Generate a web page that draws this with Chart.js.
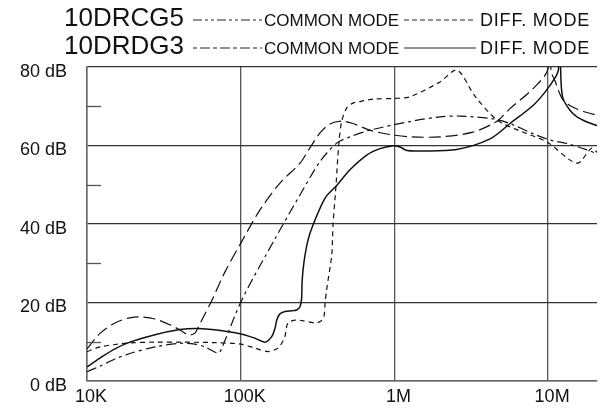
<!DOCTYPE html>
<html>
<head>
<meta charset="utf-8">
<title>10DRCG5 / 10DRDG3 attenuation</title>
<script src="https://cdn.jsdelivr.net/npm/chart.js@4.4.1/dist/chart.umd.min.js"></script>
<style>
  html, body { margin: 0; padding: 0; background: #fff; }
  #c { display: block; }
</style>
</head>
<body>
<canvas id="c" width="606" height="414"></canvas>
<script>
// ---- Data (frequency in Hz, attenuation in dB) ----
// 10DRCG5 common mode
const cg5CommonFreq = [10000, 12200, 15200, 19000, 22800, 27700, 34700, 40300, 44000, 46800, 50400, 52700, 56800, 65000, 79000, 100400, 133500, 180000, 243000, 282000, 328000, 381000, 456000, 538000, 694000, 936000, 1260000, 1980000, 3240000, 4650000, 5650000, 7980000, 9980000, 10200000, 10450000, 11090000, 11600000, 12500000, 13870000, 15400000, 17900000, 20800000];
const cg5CommonDb = [8.2, 12.2, 14.8, 16.1, 16.3, 15.8, 14.3, 13.0, 12.0, 11.7, 12.2, 13.5, 16.1, 20.6, 27.8, 35.2, 43.6, 50.4, 55.5, 59.4, 63.2, 65.5, 66.2, 65.6, 63.9, 62.8, 62.2, 62.2, 63.4, 66.2, 69.4, 74.5, 79.5, 95, 79, 76.5, 74.3, 71.6, 70.2, 69.3, 68.4, 67.7];

// 10DRCG5 differential mode
const cg5DiffFreq = [10000, 12200, 15200, 19000, 27700, 40300, 65000, 100400, 123900, 150500, 174900, 188400, 194000, 203000, 225600, 250600, 304000, 333000, 348000, 354000, 362000, 391000, 398600, 417000, 436000, 454000, 490000, 538000, 597000, 726000, 1009000, 1260000, 1980000, 2555000, 3340000, 4650000, 6560000, 9840000, 15400000, 19150000, 20800000];
const cg5DiffDb = [7.5, 8.7, 9.3, 9.7, 9.9, 9.9, 9.8, 9.4, 8.4, 7.5, 8.4, 10.2, 11.3, 14.8, 15.5, 15.4, 14.8, 15.3, 16.4, 19.9, 23.2, 32.1, 39.7, 49.9, 61.0, 66.1, 69.6, 70.8, 71.2, 71.8, 72.0, 72.4, 76.2, 79.2, 72.6, 66.5, 63.7, 60.9, 55.5, 59.3, 58.3];

// 10DRDG3 common mode
const dg3CommonFreq = [10000, 12200, 15200, 19000, 27700, 40300, 50400, 58600, 71100, 74400, 101500, 167000, 243000, 328000, 421000, 514000, 694000, 1260000, 1980000, 2670000, 4380000, 5650000, 7980000, 10300000, 13270000, 17900000, 20800000];
const dg3CommonDb = [2.4, 3.8, 5.6, 7.0, 8.7, 9.6, 9.4, 8.7, 7.1, 7.9, 20.6, 36.2, 47.4, 55.9, 60.6, 62.2, 63.9, 66.1, 67.3, 67.5, 66.8, 65.6, 63.0, 61.4, 60.5, 58.9, 57.9];

// 10DRDG3 differential mode
const dg3DiffFreq = [10000, 12200, 15200, 19000, 27700, 40300, 50400, 65000, 100400, 123900, 143900, 159000, 167000, 171500, 180000, 194000, 216000, 231000, 243000, 249000, 251000, 258000, 274000, 295000, 354000, 423000, 514000, 664000, 806000, 964000, 1087000, 1208000, 1468000, 2540000, 4190000, 5650000, 7980000, 9550000, 11090000, 11680000, 11860000, 12130000, 12500000, 13870000, 15400000, 17900000, 20800000];
const dg3DiffDb = [3.6, 5.9, 8.2, 9.9, 11.8, 13.1, 13.4, 13.1, 12.0, 10.9, 9.9, 11.3, 13.4, 15.5, 17.1, 17.7, 17.9, 18.1, 18.9, 21.0, 25.5, 30.3, 35.9, 39.7, 46.6, 49.9, 53.8, 57.6, 59.2, 59.9, 59.6, 58.7, 58.6, 59.0, 61.7, 65.6, 70.2, 73.6, 77.2, 79.4, 92, 76.5, 72.0, 69.0, 67.3, 66.0, 65.1];

// ---- Axes ----
const xTicks = [1e4, 1e5, 1e6, 1e7];
const xTickLabels = ["10K", "100K", "1M", "10M"];
const yMinorTicks = [10, 30, 50, 70];

// ---- Legend text ----
const deviceNames = ["10DRCG5", "10DRDG3"];
const modeLabels = ["COMMON MODE", "DIFF. MODE"];

const FONT = '"Liberation Sans", Arial, sans-serif';
const INK = "#111";

function zip(xs, ys) {
  return xs.map((x, i) => ({ x, y: ys[i] }));
}

function series(label, xs, ys, dash, width) {
  return {
    label,
    data: zip(xs, ys),
    borderColor: INK,
    borderWidth: width,
    borderDash: dash,
    pointRadius: 0,
    tension: 0.3,
    fill: false,
  };
}

// Legend sample dash patterns, in legend order: row -> [common, diff]
const legendDashes = [
  [[9, 3, 3, 3, 3, 3], [5, 3]],
  [[4, 3, 10, 3], []],
];

// Short minor ticks on the left edge + two-row legend on top
const extrasPlugin = {
  id: "extras",
  afterDraw(chart) {
    const { ctx, chartArea, scales } = chart;
    ctx.save();

    ctx.strokeStyle = "#555";
    ctx.lineWidth = 1.3;
    yMinorTicks.forEach((v) => {
      const y = Math.round(scales.y.getPixelForValue(v)) + 0.5;
      ctx.beginPath();
      ctx.moveTo(chartArea.left, y);
      ctx.lineTo(chartArea.left + 14, y);
      ctx.stroke();
    });

    ctx.fillStyle = INK;
    ctx.strokeStyle = "#222";
    ctx.lineWidth = 1;
    ctx.textBaseline = "alphabetic";
    const rowBase = [26, 54];
    deviceNames.forEach((name, r) => {
      const base = rowBase[r];
      ctx.font = `26px ${FONT}`;
      ctx.fillText(name, 64, base);

      const mid = base - 6;
      ctx.setLineDash(legendDashes[r][0]);
      ctx.beginPath();
      ctx.moveTo(193, mid);
      ctx.lineTo(262, mid);
      ctx.stroke();
      ctx.font = `17px ${FONT}`;
      ctx.fillText(modeLabels[0], 264, base);

      ctx.setLineDash(legendDashes[r][1]);
      ctx.beginPath();
      ctx.moveTo(404, mid);
      ctx.lineTo(476, mid);
      ctx.stroke();
      ctx.font = `18px ${FONT}`;
      ctx.letterSpacing = "0.8px";
      ctx.fillText(modeLabels[1], 480, base);
      ctx.letterSpacing = "0px";
    });
    ctx.restore();
  },
};

new Chart(document.getElementById("c"), {
  type: "line",
  data: {
    datasets: [
      series("10DRCG5 COMMON MODE", cg5CommonFreq, cg5CommonDb, [12, 5], 1.2),
      series("10DRCG5 DIFF. MODE", cg5DiffFreq, cg5DiffDb, [5, 4], 1.2),
      series("10DRDG3 COMMON MODE", dg3CommonFreq, dg3CommonDb, [10, 4, 3, 4], 1.2),
      series("10DRDG3 DIFF. MODE", dg3DiffFreq, dg3DiffDb, [], 1.5),
    ],
  },
  options: {
    responsive: false,
    animation: false,
    devicePixelRatio: 1,
    layout: { padding: { top: 67, right: 9, left: 0, bottom: 0 } },
    plugins: {
      legend: { display: false },
      tooltip: { enabled: false },
    },
    scales: {
      x: {
        type: "logarithmic",
        min: 1e4,
        max: 2.08e7,
        afterBuildTicks: (s) => {
          s.ticks = xTicks.map((v) => ({ value: v }));
        },
        afterFit: (s) => {
          s.height = 33;
        },
        ticks: {
          autoSkip: false,
          maxRotation: 0,
          padding: 5,
          labelOffset: 4,
          color: INK,
          font: { family: FONT, size: 18 },
          callback: (v) => {
            const i = xTicks.indexOf(v);
            return i >= 0 ? xTickLabels[i] : "";
          },
        },
        grid: { color: "#555", lineWidth: 1.3, drawTicks: false },
        border: { color: "#666", width: 1.5 },
      },
      y: {
        min: 0,
        max: 80,
        afterFit: (s) => {
          s.width = 87;
        },
        ticks: {
          stepSize: 20,
          padding: 20,
          labelOffset: 5,
          color: INK,
          font: { family: FONT, size: 18 },
          callback: (v) => `${v} dB`,
        },
        grid: { color: "#333", lineWidth: 1.2, drawTicks: false },
        border: { color: "#666", width: 1.5 },
      },
    },
  },
  plugins: [extrasPlugin],
});
</script>
</body>
</html>
